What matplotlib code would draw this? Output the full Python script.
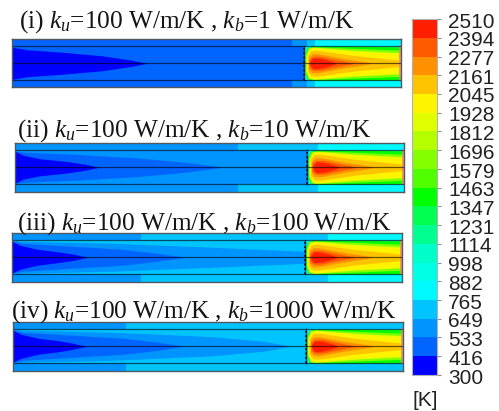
import numpy as np
import matplotlib
matplotlib.use('Agg')
import matplotlib.pyplot as plt
from matplotlib.colors import ListedColormap, BoundaryNorm

plt.rcParams['mathtext.fontset'] = 'custom'
plt.rcParams['mathtext.rm'] = 'Liberation Serif'
plt.rcParams['mathtext.it'] = 'Liberation Serif:italic'

W, H = 499, 411

tick_labels = [300, 416, 533, 649, 765, 882, 998, 1114, 1231, 1347, 1463,
               1579, 1696, 1812, 1928, 2045, 2161, 2277, 2394, 2510]
band_colors = ['#0000ff', '#0064ff', '#0094ff', '#00c4ff', '#00f8ff', '#00ffe4',
               '#00ffc8', '#00ff90', '#00ff50', '#00ff00', '#50ff00', '#84ff00',
               '#b4ff00', '#e0ff00', '#fff400', '#ffc400', '#ff9000', '#ff5a00',
               '#ff1e00']

titles = ['(i) $k_u$=100 W/m/K , $k_b$=1 W/m/K',
          '(ii) $k_u$=100 W/m/K , $k_b$=10 W/m/K',
          '(iii) $k_u$=100 W/m/K , $k_b$=100 W/m/K',
          '(iv) $k_u$=100 W/m/K , $k_b$=1000 W/m/K']

# wall colour bands: band index, end of the band along the duct
walls_i = [(1, 280), (2, 295), (3, 303), (4, 389)]
walls_ii = [(2, 223), (3, 303), (4, 389)]
walls_iii = [(2, 129), (3, 315), (4, 389)]
walls_iv = [(2, 113), (3, 389)]

# contours upstream of the wall: band, x, half height
lobes_i = [(1, [0, 292], [17, 17]),
           (0, [0, 15, 50, 90, 120, 135], [16, 13.5, 11, 7.5, 3, 0])]
lobes_ii = [(2, [0, 292], [17, 17]),
            (1, [0, 10, 60, 120, 170, 208], [16, 15, 13, 9.5, 5, 0]),
            (0, [0, 8, 25, 50, 70, 84], [16, 12, 8.5, 6, 3, 0])]
lobes_iii = [(3, [0, 292], [17, 17]),
             (2, [0, 10, 100, 200, 292], [17, 16, 14, 10, 6]),
             (1, [0, 10, 60, 110, 145, 173], [16, 14, 11, 8, 4, 0]),
             (0, [0, 8, 25, 45, 62, 75], [16, 12, 8, 5.5, 3, 0])]
lobes_iv = [(3, [0, 292], [17, 17]),
            (2, [0, 10, 100, 200, 250, 277], [17, 16, 14, 9.5, 5, 0]),
            (1, [0, 10, 60, 110, 145, 169], [16, 14, 11, 8, 4, 0]),
            (0, [0, 8, 25, 45, 60, 73], [16, 12, 8, 5.5, 3, 0])]

# flame contours, same look in all four cases
flame = [(9, [293, 295, 300, 340, 389], [10, 15.5, 17, 17, 16.5]),
         (11, [293.5, 296, 301, 340, 389], [9, 15.5, 16.5, 15, 13]),
         (13, [294, 297, 302, 340, 389], [8, 15, 16, 13, 10.5]),
         (14, [295, 298, 303, 340, 389], [8, 14.5, 15.5, 12, 9]),
         (15, [295.5, 299, 305, 340, 389], [8, 12.5, 13, 8, 3]),
         (16, [296.5, 300, 306, 330, 350, 360], [6, 9.5, 9.5, 5, 2, 0]),
         (17, [297, 301, 308, 325, 343], [4, 7, 7, 3.5, 0]),
         (18, [298, 301, 308, 318, 325], [2, 5.5, 5, 2.5, 0])]

panels = [((12, 39, 401, 87.5), walls_i, lobes_i),
          ((15, 143, 404, 191.5), walls_ii, lobes_ii),
          ((12, 233, 402, 281.5), walls_iii, lobes_iii),
          ((13, 322, 403, 370.5), walls_iv, lobes_iv)]
title_pos = [(19, 28), (17, 137), (17, 230), (11, 318)]


def px_axes(fig, x0, y0, x1, y1):
    """Axes from pixel corners, y counted from the top"""
    return fig.add_axes([x0 / W, 1 - y1 / H, (x1 - x0) / W, (y1 - y0) / H])


fig = plt.figure(figsize=(W / 100, H / 100), dpi=100)

for (box, walls, lobes) in panels:
    ax = px_axes(fig, *box)
    ax.set_xlim(0, 389)
    ax.set_ylim(-24.25, 24.25)
    ax.set_xticks([])
    ax.set_yticks([])
    start = 0
    for band, end in walls:
        ax.axvspan(start, end, color=band_colors[band], lw=0)
        start = end
    for band, xs, hs in lobes:
        ax.fill_between(xs, -np.array(hs), hs, color=band_colors[band], lw=0)
    ax.axvspan(292, 389, ymin=7.25 / 48.5, ymax=41.25 / 48.5, color=band_colors[4], lw=0)
    for band, xs, hs in flame:
        ax.fill_between(xs, -np.array(hs), hs, color=band_colors[band], lw=0)
    ax.plot([388.5, 388.5], [-17, 17], color='#f08878', lw=1.2)
    ax.plot([292, 292], [-17, 17], color='#0a3a60', lw=1.0)
    ax.plot([292, 292], [-17, 17], color='black', lw=1.2, ls=(0, (1, 1.6)))
    for y in [-17, 0, 17]:
        ax.axhline(y, color='black', lw=0.9, alpha=0.6)
    for s in ax.spines.values():
        s.set_color('#505860')
        s.set_linewidth(1.0)

for txt, (tx, ty) in zip(titles, title_pos):
    fig.text(tx / W, 1 - ty / H, txt, family='Liberation Serif', fontsize=18.2,
             color='#151515', va='baseline', ha='left', zorder=10)

cax = px_axes(fig, 412, 19, 437, 375)
levels = np.array(tick_labels, dtype=float)
norm = BoundaryNorm(levels, len(band_colors))
mids = (levels[:-1] + levels[1:]) / 2
cax.pcolormesh([0, 1], levels, mids.reshape(-1, 1),
               cmap=ListedColormap(band_colors), norm=norm)
cax.set_xticks([])
cax.set_yticks(levels)
cax.set_yticklabels([])
cax.yaxis.tick_right()
cax.tick_params(axis='y', length=3, width=0.8, color='#909090')
for s in cax.spines.values():
    s.set_color('#b0b0b8')
    s.set_linewidth(0.8)
for val in tick_labels:
    cax.annotate(str(val), xy=(1, val), xycoords=cax.get_yaxis_transform(),
                 xytext=(8.0, -2.2), textcoords='offset points', family='Liberation Sans',
                 fontsize=15, color='#222222', va='center', ha='left')

fig.text(412 / W, 1 - 400 / H, '[K]', family='Liberation Sans', fontsize=15,
         color='#222222', va='center', ha='left')

plt.savefig('out.png', dpi=100)
plt.close()
